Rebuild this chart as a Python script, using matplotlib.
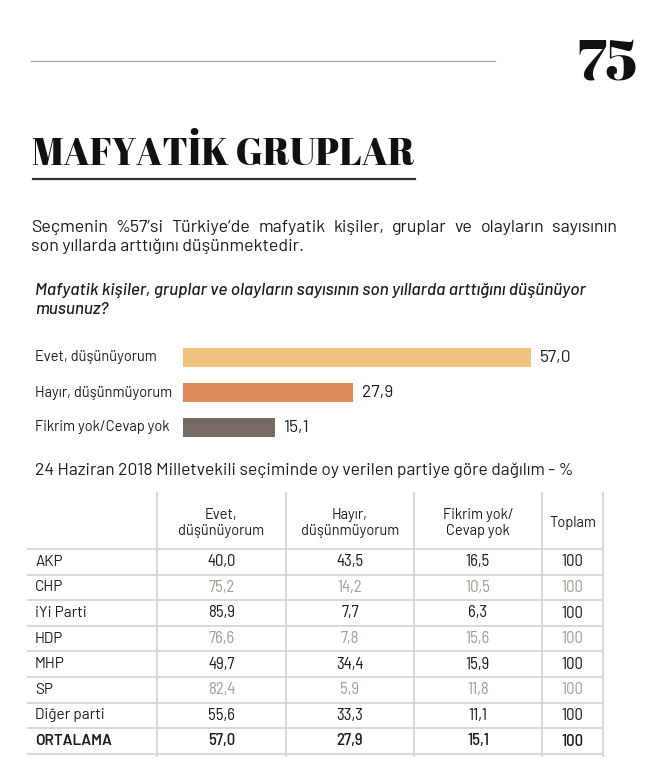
import matplotlib
matplotlib.use('Agg')
import matplotlib.pyplot as plt

# ── Data ─────────────────────────────────────────────────────────────────────
answers = ['Evet, düşünüyorum', 'Hayır, düşünmüyorum', 'Fikrim yok/Cevap yok']
shares = [57.0, 27.9, 15.1]
bar_colors = ['#EFC27F', '#DE8A58', '#766A64']

col_headers = ['Evet,\ndüşünüyorum', 'Hayır,\ndüşünmüyorum', 'Fikrim yok/\nCevap yok', 'Toplam']
parties = ['AKP', 'CHP', 'iYi Parti', 'HDP', 'MHP', 'SP', 'Diğer parti', 'ORTALAMA']
evet = [40.0, 75.2, 85.9, 76.6, 49.7, 82.4, 55.6, 57.0]
hayir = [43.5, 14.2, 7.7, 7.8, 34.4, 5.9, 33.3, 27.9]
fikrim = [16.5, 10.5, 6.3, 15.6, 15.9, 11.8, 11.1, 15.1]
toplam = [100, 100, 100, 100, 100, 100, 100, 100]

SANS = ['Barlow', 'DejaVu Sans']
NARROW = ['Barlow Semi Condensed', 'DejaVu Sans']
SERIF = ['Abril Fatface', 'DejaVu Serif']
DARK = '#1c1c1c'
TAN = '#a99b8d'
GRID = '#d6d6d6'


def fmt(v):
    return f'{v:.1f}'.replace('.', ',')


fig = plt.figure(figsize=(6.7, 7.65), dpi=100)
renderer = fig.canvas.get_renderer()
# full-page axes in pixel units (y grows downwards)
page = fig.add_axes([0, 0, 1, 1])
page.set_xlim(0, 670)
page.set_ylim(765, 0)
page.axis('off')


def width_px(t):
    return t.get_window_extent(renderer=renderer).width


def fit_text(x, y, s, target, **kw):
    # set the font size so the text spans `target` pixels
    t = page.text(x, y, s, va='baseline', **kw)
    t.set_fontsize(t.get_fontsize() * target / width_px(t))
    return t


def justify(text, x0, x1, y, **kw):
    words = text.split()
    arts = [page.text(0, y, w, va='baseline', ha='left', **kw) for w in words]
    widths = [width_px(a) for a in arts]
    gap = (x1 - x0 - sum(widths)) / (len(words) - 1)
    x = x0
    for a, w in zip(arts, widths):
        a.set_x(x)
        x += w + gap


# ── Header ───────────────────────────────────────────────────────────────────
page.plot([31, 495], [61, 61], color='#b3a79c', lw=1.0)
page.text(638, 79, '75', family=SERIF, fontsize=42, ha='right', va='baseline', color='#111111')
fit_text(32, 165, 'MAFYATİK GRUPLAR', 383, family=SERIF, fontsize=26, ha='left', color='#111111')
page.plot([33, 415], [179, 179], color='#333333', lw=1.6)

body = fit_text(31, 251, 'son yıllarda arttığını düşünmektedir.', 273, family=SANS,
                fontsize=12.5, color=DARK)
justify('Seçmenin %57’si Türkiye’de mafyatik kişiler, gruplar ve olayların sayısının',
        31, 617, 232, family=SANS, fontsize=body.get_fontsize(), color=DARK)

q = fit_text(35, 295, 'Mafyatik kişiler, gruplar ve olayların sayısının son yıllarda arttığını düşünüyor',
             550, family=SANS, fontsize=11.5, style='italic', fontweight='medium', color=DARK)
page.text(35, 314, 'musunuz?', family=SANS, fontsize=q.get_fontsize(), style='italic',
          fontweight='medium', color=DARK, va='baseline')

# ── Bar chart ────────────────────────────────────────────────────────────────
W, H = 670.0, 765.0
px_per_unit = (531 - 183) / 57.0
xmax = 80
bx = fig.add_axes([183 / W, (H - 445) / H, xmax * px_per_unit / W, 105 / H])
pos = list(range(len(answers)))
bx.barh(pos, shares, color=bar_colors, height=0.52)
bx.set_xlim(0, xmax)
bx.set_ylim(2.5, -0.5)
bx.axis('off')
for p, v, lab in zip(pos, shares, answers):
    bx.text(v + 1.45, p, fmt(v), va='center', ha='left', family=SANS, fontsize=12.5, color=DARK)
    bx.text(-(183 - 35) / px_per_unit, p, lab, va='center', ha='left', family=SANS,
            fontsize=10.5, color=DARK, clip_on=False)

# ── Table ────────────────────────────────────────────────────────────────────
fit_text(35, 475, '24 Haziran 2018 Milletvekili seçiminde oy verilen partiye göre dağılım - %',
         538, family=SANS, fontsize=11.5, color=DARK)

col_x = [157, 286, 414, 542, 603]
tbl_top, head_bot, row_h = 492, 549, 25.6
n = len(parties)
tbl_bot = head_bot + n * row_h
for x in col_x:
    page.plot([x, x], [tbl_top, tbl_bot + 3], color=GRID, lw=1.3, solid_capstyle='butt')
for k in range(n + 1):
    y = head_bot + k * row_h
    page.plot([27, 603], [y, y], color=GRID, lw=1.3, solid_capstyle='butt')

centers = [(a + b) / 2 for a, b in zip(col_x[:-1], col_x[1:])]
for cx, h in zip(centers, col_headers):
    page.text(cx, 523, h, ha='center', va='center', family=SANS, fontsize=10.5,
              color=DARK, linespacing=1.15)

for i, party in enumerate(parties):
    yc = head_bot + (i + 0.5) * row_h
    last = party == 'ORTALAMA'
    page.text(35, yc, party, ha='left', va='center', family=SANS, fontsize=11,
              color=DARK, fontweight='semibold' if last else 'normal')
    vcol = TAN if party in ('CHP', 'HDP', 'SP') else DARK
    row = [fmt(evet[i]), fmt(hayir[i]), fmt(fikrim[i]), str(toplam[i])]
    for cx, s in zip(centers, row):
        page.text(cx, yc, s, ha='center', va='center', family=NARROW, fontsize=12,
                  color=vcol, fontweight='medium' if last else 'normal')

fig.savefig('out.png', dpi=100)
